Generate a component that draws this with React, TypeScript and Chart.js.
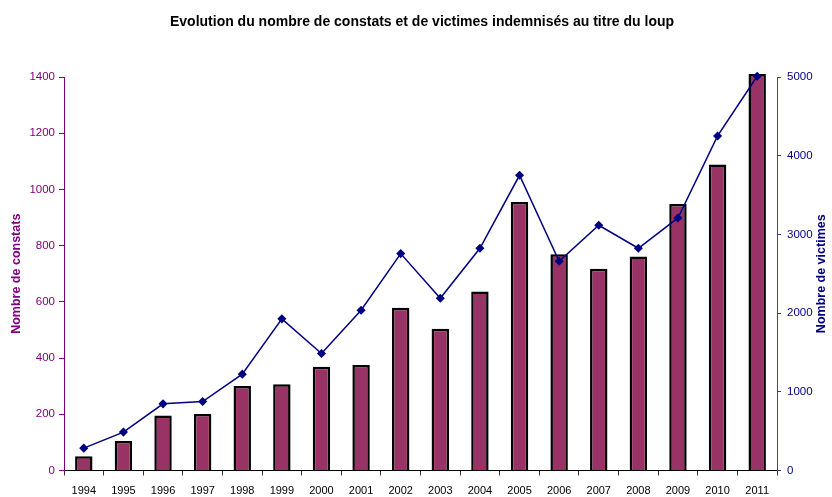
import React, { useEffect, useRef } from "react";
import { Chart, registerables } from "chart.js";

Chart.register(...registerables);

const years = ["1994","1995","1996","1997","1998","1999","2000","2001","2002","2003","2004","2005","2006","2007","2008","2009","2010","2011"];
const constats = [51, 105, 196, 201, 301, 307, 369, 375, 579, 504, 637, 955, 769, 718, 761, 948, 1089, 1411];
const victimes = [284, 488, 847, 876, 1224, 1927, 1486, 2037, 2756, 2189, 2824, 3751, 2659, 3116, 2824, 3209, 4251, 5010];

const titleText = "Evolution du nombre de constats et de victimes indemnisés au titre du loup";
const leftTitle = "Nombre de constats";
const rightTitle = "Nombre de victimes";

const FONT = "'Liberation Sans', Arial, sans-serif";
const PURPLE = "#800080";
const NAVY = "#000080";

const textPlugin = {
  id: "customTexts",
  afterDraw(chart: any) {
    const ctx = chart.ctx;
    const area = chart.chartArea;
    const midY = (area.top + area.bottom) / 2;
    ctx.save();
    ctx.textAlign = "center";
    ctx.textBaseline = "middle";
    ctx.fillStyle = "#000";
    ctx.font = `bold 14px ${FONT}`;
    ctx.fillText(titleText, 422, 22);

    ctx.font = `bold 12.5px ${FONT}`;
    ctx.fillStyle = PURPLE;
    ctx.save();
    ctx.translate(17, midY);
    ctx.rotate(-Math.PI / 2);
    ctx.fillText(leftTitle, 0, 0);
    ctx.restore();

    ctx.fillStyle = NAVY;
    ctx.save();
    ctx.translate(822, midY);
    ctx.rotate(-Math.PI / 2);
    ctx.fillText(rightTitle, 0, 0);
    ctx.restore();
    ctx.restore();
  },
};

export default function App() {
  const ref = useRef<HTMLCanvasElement | null>(null);
  useEffect(() => {
    document.body.style.margin = "0";
    const canvas = ref.current;
    if (!canvas) return;
    const chart = new Chart(canvas, {
      type: "bar",
      data: {
        labels: years,
        datasets: [
          {
            type: "line",
            label: "Victimes",
            data: victimes,
            yAxisID: "y1",
            borderColor: NAVY,
            backgroundColor: NAVY,
            borderWidth: 1.5,
            pointStyle: "rectRot",
            pointRadius: 3.5,
            pointBackgroundColor: NAVY,
            pointBorderColor: NAVY,
            tension: 0,
            clip: false as any,
            order: 0,
          } as any,
          {
            type: "bar",
            label: "Constats",
            data: constats,
            yAxisID: "y",
            backgroundColor: "#993366",
            borderColor: "#000000",
            borderWidth: 2.5,
            barPercentage: 0.44,
            categoryPercentage: 1,
            clip: false as any,
            order: 1,
          } as any,
        ],
      },
      options: {
        responsive: false,
        animation: false,
        layout: { padding: { top: 77, left: 0, right: 0, bottom: 0 } },
        plugins: {
          legend: { display: false },
          title: { display: false },
          tooltip: { enabled: false },
        },
        scales: {
          x: {
            offset: true,
            grid: {
              offset: true,
              drawOnChartArea: false,
              drawTicks: true,
              tickLength: 5,
              color: "#333",
            },
            border: { display: true, color: "#000", width: 1 },
            ticks: {
              color: "#000",
              font: { family: FONT, size: 11 },
              padding: 9,
              maxRotation: 0,
              autoSkip: false,
            },
            afterFit: (s: any) => { s.height = 26.5; },
          },
          y: {
            position: "left",
            min: 0,
            max: 1400,
            grid: {
              drawOnChartArea: false,
              drawTicks: true,
              tickLength: 5,
              color: PURPLE,
            },
            border: { display: true, color: PURPLE, width: 1 },
            ticks: {
              stepSize: 200,
              color: PURPLE,
              font: { family: FONT, size: 11.5 },
              padding: 4,
              callback: (v: any) => String(v),
            },
            afterFit: (s: any) => { s.width = 64; },
          },
          y1: {
            position: "right",
            min: 0,
            max: 5000,
            grid: {
              drawOnChartArea: false,
              drawTicks: true,
              tickLength: 4,
              color: "#333399",
            },
            border: { display: true, color: "#4444a0", width: 1 },
            ticks: {
              stepSize: 1000,
              color: NAVY,
              font: { family: FONT, size: 11.5 },
              padding: 6,
              callback: (v: any) => String(v),
            },
            afterFit: (s: any) => { s.width = 55; },
          },
        },
      },
      plugins: [textPlugin],
    });
    return () => chart.destroy();
  }, []);
  return <canvas ref={ref} width={832} height={497} style={{ display: "block" }} />;
}
